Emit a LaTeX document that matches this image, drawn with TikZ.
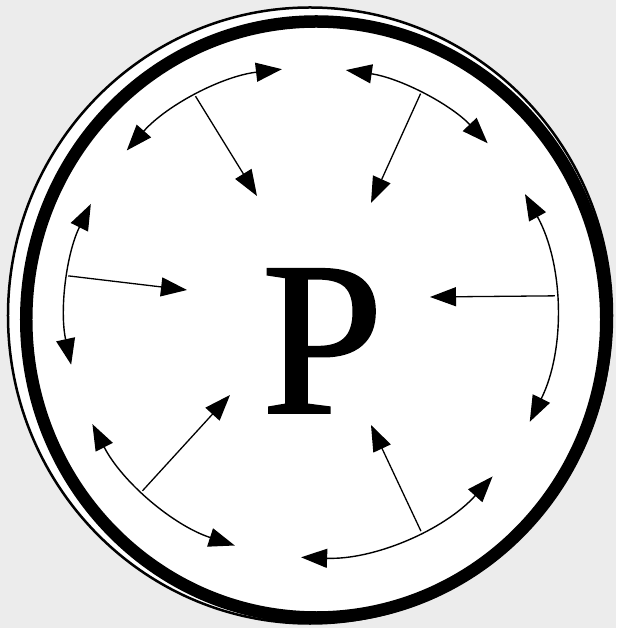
\documentclass[tikz,border=0pt]{standalone}
\usepackage{fontspec}
\setmainfont{Liberation Serif}
\newfontfamily\pfont[FakeBold=0.9]{Liberation Serif}
\usetikzlibrary{arrows.meta}
\definecolor{bg}{RGB}{236,236,236}
\tikzset{
  bigtip/.tip={Triangle[length=26pt,width=19pt]},
  twoway/.style={arrows={bigtip-bigtip}, line width=1.4pt},
  inward/.style={arrows={-bigtip}, line width=1.3pt},
}
\begin{document}
\begin{tikzpicture}[x=1pt,y=1pt]
\fill[bg] (-310.5,-315.5) rectangle (305.5,312.5);
\useasboundingbox (-310.5,-315.5) rectangle (305.5,312.5);
% rim
\filldraw[fill=white, line width=2.5pt] (-0.5,-3) ellipse [x radius=302, y radius=308];
\draw[line width=12.5pt] (5.75,-7) ellipse [x radius=290, y radius=298];
% arc end points, arc middles and inner tips
\coordinate (a1) at (96.7:245);  \coordinate (m1) at (118:245);  \coordinate (t1) at (-53.5,116.5);
\coordinate (a2) at (81.7:245);  \coordinate (m2) at (63.3:245); \coordinate (t2) at (60.5,109.5);
\coordinate (a3) at (28.9:245);  \coordinate (m3) at (3.9:245);  \coordinate (t3) at (119.5,15.5);
\coordinate (a4) at (-42:245);   \coordinate (m4) at (-63.2:245);\coordinate (t4) at (60.5,-112.5);
\coordinate (a5) at (252:245);   \coordinate (m5) at (226.7:245);\coordinate (t5) at (-80.5,-82.5);
\coordinate (a6) at (153.7:245); \coordinate (m6) at (171.4:245);\coordinate (t6) at (-123.5,22.5);
% two-headed arcs
\draw[twoway] (a1) arc[start angle=96.7, end angle=138.6, radius=245];
\draw[twoway] (a2) arc[start angle=81.7, end angle=43.7, radius=245];
\draw[twoway] (a3) arc[start angle=28.9, end angle=-26.5, radius=245];
\draw[twoway] (a4) arc[start angle=-42, end angle=-92.2, radius=245];
\draw[twoway] (a5) arc[start angle=252, end angle=207.1, radius=245];
\draw[twoway] (a6) arc[start angle=153.7, end angle=192.3, radius=245];
% inward arrows
\draw[inward] (m1) -- (t1);
\draw[inward] (m2) -- (t2);
\draw[inward] (m3) -- (t3);
\draw[inward] (m4) -- (t4);
\draw[inward] (m5) -- (t5);
\draw[inward] (m6) -- (t6);
% letter
\node[font=\pfont\fontsize{220}{220}\selectfont, inner sep=0pt, anchor=base] (p) at (12,-100.5) {P};
\end{tikzpicture}
\end{document}
